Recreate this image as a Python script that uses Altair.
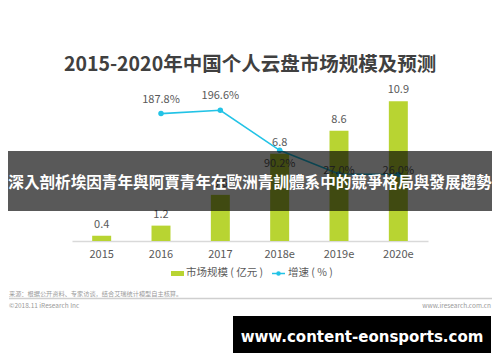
import altair as alt
import pandas as pd

years = ["2015", "2016", "2017", "2018e", "2019e", "2020e"]
market = [0.4, 1.2, 3.6, 6.8, 8.6, 10.9]
growth = [None, 187.8, 196.6, 90.2, 27.0, 26.0]

title_text = "2015-2020年中国个人云盘市场规模及预测"
legend_bar = "市场规模 ( 亿元 )"
legend_line = "增速 ( % )"
source_text = "来源：根据公开资料、专家访谈，结合艾瑞统计模型自主核算。"
copyright_text = "©2018.11 iResearch Inc"
site_text = "www.iresearch.com.cn"
banner_text = "深入剖析埃因青年與阿賈青年在歐洲青訓體系中的競爭格局與發展趨勢"
watermark_text = "www.content-eonsports.com"

df = pd.DataFrame({"year": years, "market": market, "growth": growth})
df["market_label"] = [f"{v:.1f}" for v in market]
df["growth_label"] = ["" if g is None else f"{g:.1f}%" for g in growth]
one = pd.DataFrame({"k": [0]})

BAR = "#b8d432"
LINE = "#22c3e6"
GRAY = "#595959"
FONT = "Noto Sans CJK SC"

x_enc = alt.X(
    "year:N", sort=years,
    scale=alt.Scale(paddingInner=0.68, paddingOuter=0.34),
    axis=alt.Axis(title=None, labelAngle=0, ticks=False, domainColor="#d9d9d9",
                  domainWidth=1.5, labelColor=GRAY, labelFontSize=11, labelPadding=7,
                  labelFont=FONT, grid=False),
)
y_bar_scale = alt.Scale(domain=[0, 11], nice=False, zero=True)
y_line_scale = alt.Scale(domain=[-151, 224], nice=False, zero=False)

base = alt.Chart(df)
bars = base.mark_bar(color=BAR).encode(
    x=x_enc, y=alt.Y("market:Q", scale=y_bar_scale, axis=None))
bar_labels = base.mark_text(dy=-11, fontSize=11, color=GRAY, font=FONT, baseline="middle").encode(
    x=alt.X("year:N", sort=years), y=alt.Y("market:Q", scale=y_bar_scale, axis=None),
    text="market_label:N")

ldf = base.transform_filter("datum.growth != null")
line = ldf.mark_line(color=LINE, strokeWidth=1.6).encode(
    x=alt.X("year:N", sort=years), y=alt.Y("growth:Q", scale=y_line_scale, axis=None))
pts = ldf.mark_point(color=LINE, filled=True, size=30, opacity=1).encode(
    x=alt.X("year:N", sort=years), y=alt.Y("growth:Q", scale=y_line_scale, axis=None))

def glabels(filt, dy):
    return ldf.transform_filter(filt).mark_text(
        dy=dy, fontSize=11, color=GRAY, font=FONT, baseline="middle").encode(
        x=alt.X("year:N", sort=years), y=alt.Y("growth:Q", scale=y_line_scale, axis=None),
        text="growth_label:N")

gl1 = glabels("datum.year == '2016' || datum.year == '2017'", -14)
gl2 = glabels("datum.year == '2018e'", 14)
gl3 = glabels("datum.year == '2019e' || datum.year == '2020e'", -3)

ann = alt.Chart(one)

def txt(s, x, y, size, color, align="center", weight="normal", font=FONT):
    return ann.mark_text(text=s, fontSize=size, color=color, align=align,
                         baseline="middle", fontWeight=weight, font=font).encode(
        x=alt.value(x), y=alt.value(y))

title = txt(title_text, 178, -35, 19.5, "#404040", weight="bold")

leg_rect = ann.mark_rect(color=BAR).encode(
    x=alt.value(99), x2=alt.value(112), y=alt.value(171), y2=alt.value(176))
leg_t1 = txt(legend_bar, 114, 173, 10.5, GRAY, align="left")
leg_rule = ann.mark_rule(color=LINE, strokeWidth=1.5).encode(
    x=alt.value(200), x2=alt.value(213), y=alt.value(173.5))
leg_pt = ann.mark_point(color=LINE, filled=True, size=20, opacity=1).encode(
    x=alt.value(206.5), y=alt.value(173.5))
leg_t2 = txt(legend_line, 216, 173, 10.5, GRAY, align="left")

src = txt(source_text, -63, 194, 6.2, "#9a9a9a", align="left")
sep = ann.mark_rule(color="#cfcfcf", strokeWidth=1.5).encode(
    x=alt.value(-63), x2=alt.value(420), y=alt.value(198.5))
cpy = txt(copyright_text, -63, 205.7, 6.5, "#9a9a9a", align="left")
site = txt(site_text, 419, 205.7, 6.5, "#9a9a9a", align="right")

banner = ann.mark_rect(color="#000000", opacity=0.65).encode(
    x=alt.value(-64), x2=alt.value(420), y=alt.value(51), y2=alt.value(111))
banner_t = txt(banner_text, 178, 83, 15.6, "#ffffff", weight="bold", font="Noto Sans CJK TC")

wm_rect = ann.mark_rect(color="#000000").encode(
    x=alt.value(161), x2=alt.value(419), y=alt.value(216), y2=alt.value(253))
wm_t = txt(watermark_text, 290, 236.5, 15, "#ffffff", weight="bold", font="DejaVu Sans")

chart = alt.layer(
    bars, bar_labels, line, pts, gl1, gl2, gl3,
    title, leg_rect, leg_t1, leg_rule, leg_pt, leg_t2, src, sep, cpy, site,
    banner, banner_t, wm_rect, wm_t,
).resolve_scale(y="independent").properties(
    width=356, height=141,
    padding={"left": 64, "right": 64, "top": 92, "bottom": 113},
    autosize=alt.AutoSizeParams(type="none"),
    background="#ffffff",
).configure_view(stroke=None)

chart.save("out.html", embed_options={"renderer": "svg", "actions": False})
